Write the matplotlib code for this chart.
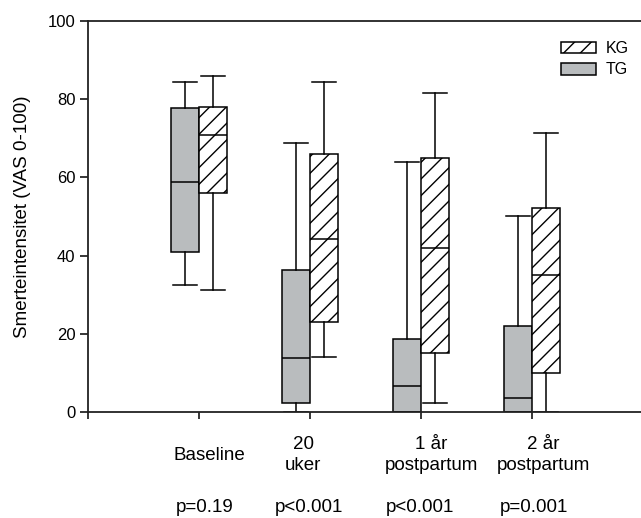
import matplotlib
matplotlib.use("Agg")
import matplotlib.pyplot as plt
import matplotlib.transforms as mtransforms
from matplotlib.patches import Patch

plt.rcParams['font.family'] = ['Liberation Sans', 'DejaVu Sans']
plt.rcParams['hatch.linewidth'] = 1.0

# data
categories = ['Baseline', '20\nuker', '1 år\npostpartum', '2 år\npostpartum']
p_values = ['p=0.19', 'p<0.001', 'p<0.001', 'p=0.001']

# TG (grey boxes)
tg_whislo = [32.5, 0, 0, 0]
tg_q1 = [40.8, 2.4, 0, 0]
tg_med = [58.8, 13.9, 6.6, 3.7]
tg_q3 = [77.7, 36.2, 18.6, 22.0]
tg_whishi = [84.5, 68.9, 64.0, 50.0]

# KG (hatched boxes)
kg_whislo = [31.2, 14.0, 2.3, 0]
kg_q1 = [56.0, 23.0, 15.0, 10.0]
kg_med = [70.9, 44.2, 42.0, 35.0]
kg_q3 = [77.9, 66.0, 64.9, 52.1]
kg_whishi = [86.0, 84.3, 81.5, 71.4]


def make_stats(lo, q1, med, q3, hi):
    return [dict(whislo=a, q1=b, med=c, q3=d, whishi=e, fliers=[])
            for a, b, c, d, e in zip(lo, q1, med, q3, hi)]


fig = plt.figure(figsize=(6.41, 5.18), dpi=100)
ax = fig.add_axes([88 / 641, 106 / 518, 553 / 641, 391 / 518])

centers = [1, 2, 3, 4]
box_w = 0.25
grey = '#b9bcbe'

line_kw = dict(color='black', linewidth=1.1)

tg = ax.bxp(make_stats(tg_whislo, tg_q1, tg_med, tg_q3, tg_whishi),
            positions=[c - box_w / 2 for c in centers], widths=box_w,
            capwidths=0.21, patch_artist=True, showfliers=False,
            boxprops=dict(facecolor=grey, edgecolor='black', linewidth=1.1),
            medianprops=line_kw, whiskerprops=line_kw, capprops=line_kw)

kg = ax.bxp(make_stats(kg_whislo, kg_q1, kg_med, kg_q3, kg_whishi),
            positions=[c + box_w / 2 for c in centers], widths=box_w,
            capwidths=0.21, patch_artist=True, showfliers=False,
            boxprops=dict(facecolor='white', edgecolor='black', linewidth=1.1,
                          hatch='//'),
            medianprops=line_kw, whiskerprops=line_kw, capprops=line_kw)

ax.set_xlim(0, 553 / 111)
ax.set_ylim(0, 100)
ax.set_xticks([0] + centers)
ax.set_xticklabels([])
ax.set_yticks([0, 20, 40, 60, 80, 100])
ax.tick_params(axis='y', direction='out', length=6, width=1.1, labelsize=12,
               pad=3)
ax.tick_params(axis='x', direction='out', length=5, width=1.1)

for side in ['top', 'bottom', 'left']:
    ax.spines[side].set_linewidth(1.3)
    ax.spines[side].set_color('#222222')
ax.spines['right'].set_visible(False)

ax.set_ylabel('Smerteintensitet (VAS 0-100)', fontsize=13.5, labelpad=12)

# category labels and p-values under the axis
trans = mtransforms.blended_transform_factory(ax.transData, ax.transAxes)
label_x = [1.09, 1.94, 3.09, 4.10]
p_x = [1.05, 1.99, 2.99, 4.02]
for x, lab in zip(label_x, categories):
    ax.text(x, -0.11, lab, transform=trans, ha='center', va='center',
            fontsize=13.5, multialignment='center', linespacing=1.3)
for x, p in zip(p_x, p_values):
    ax.text(x, -0.243, p, transform=trans, ha='center', va='center',
            fontsize=13.5)

handles = [Patch(facecolor='white', edgecolor='black', hatch='//', linewidth=1.1),
           Patch(facecolor=grey, edgecolor='black', linewidth=1.1)]
fig.legend(handles, ['KG', 'TG'], loc='upper left',
           bbox_to_anchor=(561 / 641, 1 - 41 / 518), frameon=False,
           fontsize=11.5, handlelength=2.2, handleheight=0.75,
           handletextpad=0.6, labelspacing=0.4, borderpad=0,
           borderaxespad=0)

fig.savefig('out.png', dpi=100)
